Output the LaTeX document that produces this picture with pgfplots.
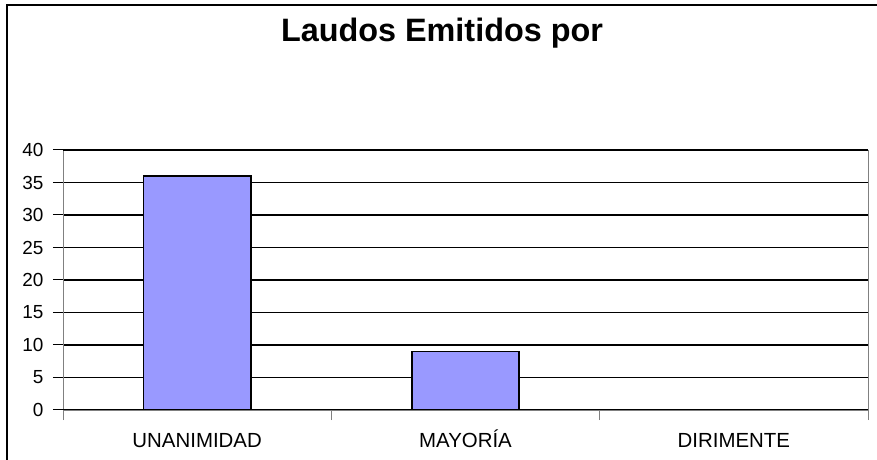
\documentclass[border=0pt]{standalone}
\usepackage{pgfplots}
\pgfplotsset{compat=1.18}
\usepackage{fontspec}
\setmainfont{Liberation Sans}
\definecolor{barfill}{HTML}{9999FF}
\begin{document}
\begin{tikzpicture}
\useasboundingbox (0,0) rectangle (877bp,460bp);
\draw[line width=1.6bp] (7bp,0) -- (7bp,455bp) -- (877bp,455bp);
\node[font=\bfseries\fontsize{32.5}{34}\selectfont, anchor=base] at (442bp,418bp) {Laudos Emitidos por};
\begin{axis}[
  at={(63bp,50bp)}, anchor=south west,
  scale only axis, width=805bp, height=260bp,
  xmin=-0.5, xmax=2.5, ymin=0, ymax=40,
  ytick={0,5,...,40},
  xtick={-0.5,0.5,1.5,2.5}, xticklabels={},
  extra x ticks={0,1,2},
  extra x tick labels={UNANIMIDAD,MAYORÍA,DIRIMENTE},
  extra x tick style={major tick length=0pt, grid=none,
     tick label style={font=\fontsize{20.5}{21}\selectfont, anchor=base, yshift=-38bp}},
  ymajorgrids, grid style={black, line width=1.7bp},
  tick align=outside, major tick length=10bp,
  ytick pos=left, xtick pos=bottom,
  ytick style={black, line width=1bp},
  xtick style={gray, line width=0.8bp},
  axis line style={gray, line width=0.8bp},
  yticklabel style={font=\fontsize{19}{19}\selectfont, xshift=-6bp},
  /pgf/number format/assume math mode=true,
  ybar, bar width=0.4,
]
\addplot[fill=barfill, draw=black, line width=1.6bp] coordinates {(0,36) (1,9) (2,0)};
\draw[black, line width=1.7bp] (axis cs:-0.5,40) -- (axis cs:2.5,40);
\draw[black, line width=2.4bp] (axis cs:-0.5,0) -- (axis cs:2.5,0);
\end{axis}
\end{tikzpicture}
\end{document}
